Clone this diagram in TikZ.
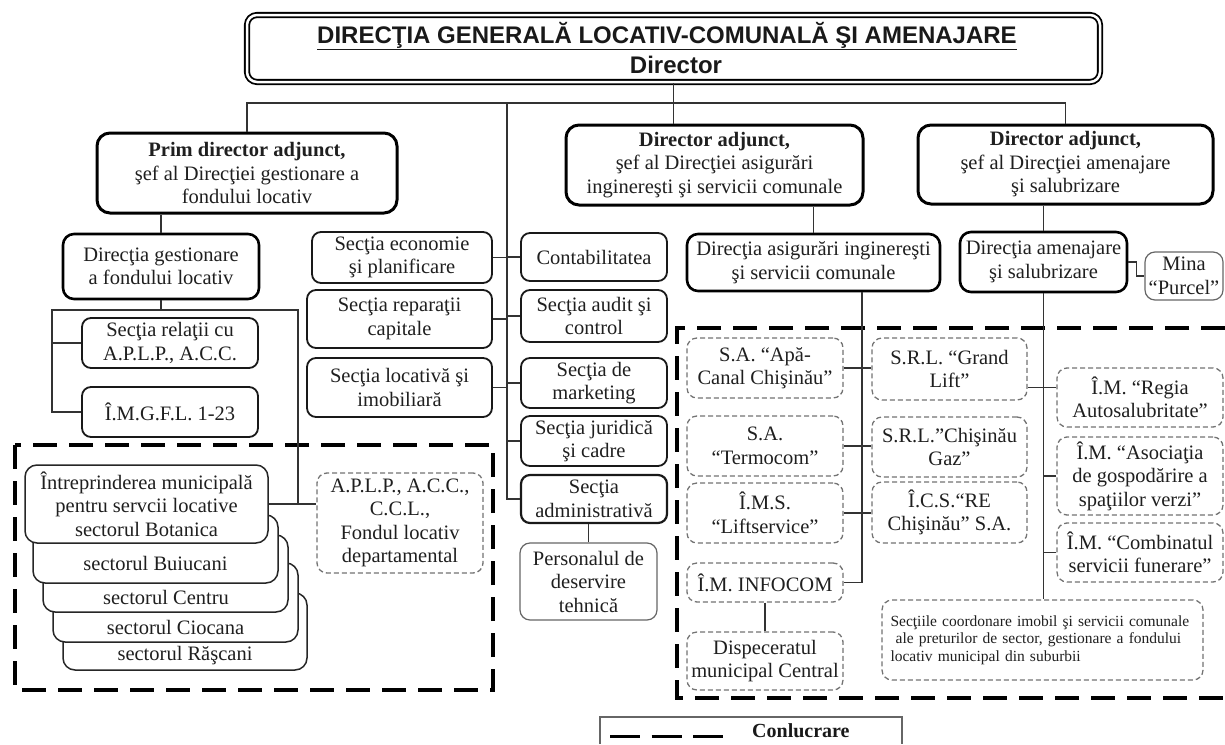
\documentclass[tikz,border=0pt]{standalone}
\usepackage{fontspec}
\setmainfont{Liberation Serif}
\newfontfamily\arialfont{Liberation Sans}
\newcommand\boxfont{\fontsize{20.5pt}{23.5pt}\selectfont}
\newcommand\tinyboxfont{\fontsize{15.5pt}{17.5pt}\selectfont}
\begin{document}
\begin{tikzpicture}[x=1pt,y=-1pt,
  base/.style={align=center, inner sep=0pt, font=\boxfont, text=black!88, fill=white},
  dirbox/.style={base, draw=black, line width=3pt, rounded corners=13pt},
  dbox/.style={base, draw=black, line width=2.6pt, rounded corners=11pt},
  sbox/.style={base, draw=black!90, line width=1.8pt, rounded corners=9pt},
  dashbox/.style={base, draw=black!55, line width=1.3pt, dash pattern=on 5pt off 3pt, rounded corners=10pt},
  thinbox/.style={base, draw=black!60, line width=1.2pt, rounded corners=10pt},
  sectbox/.style={base, draw=black!85, line width=1.5pt, rounded corners=12pt},
  grp/.style={draw=black, line width=3.5pt, dash pattern=on 24pt off 12pt},
  conn/.style={draw=black!80, line width=1.2pt},
  sz/.style 2 args={minimum width=#1pt, minimum height=#2pt}
]
\useasboundingbox (0,0) rectangle (1225,744);

% group frames
\draw[grp] (15,445) rectangle (493,690);
\draw[grp] (1225,328) -- (677,328) -- (677,698) -- (1225,698);

% top box
\node[draw=black, line width=1.8pt, double=white, double distance=2.5pt, rounded corners=10pt, sz={853}{67}, fill=white] (top) at (673.5,48.5) {};
\node[font=\arialfont\bfseries\fontsize{24pt}{28pt}\selectfont, text=black!90, inner sep=0pt] (title) at (667,36) {\underline{DIRECŢIA GENERALĂ LOCATIV-COMUNALĂ ŞI AMENAJARE}};
\node[font=\arialfont\bfseries\fontsize{24pt}{28pt}\selectfont, text=black!90, inner sep=0pt] (dirt) at (676,65) {Director};

% directors
\node[dirbox, sz={300}{80}] (prim) at (247,173) {\textbf{Prim director adjunct,}\\ şef al Direcţiei gestionare a\\ fondului locativ};
\node[dirbox, sz={297}{80}] (mdir) at (714.5,165) {\textbf{Director adjunct,}\\ şef al Direcţiei  asigurări\\ inginereşti şi servicii comunale};
\node[dirbox, sz={295}{79}] (rdir) at (1065.5,164.5) {\textbf{Director adjunct,}\\ şef al Direcţiei  amenajare\\ şi salubrizare};

% left branch
\node[dbox, sz={196}{65}] (dgfl) at (161,266.5) {Direcţia gestionare\\ a fondului  locativ};
\node[sbox, sz={176}{50}] (srel) at (170,343) {Secţia  relaţii cu\\ A.P.L.P., A.C.C.};
\node[sbox, sz={176}{50}] (imgfl) at (170,412) {Î.M.G.F.L. 1-23};

% sections left of spine
\node[sbox, sz={180}{51}] (econ) at (402,257.5) {Secţia economie\\ şi planificare};
\node[sbox, sz={185}{58}] (rep) at (399.5,319) {Secţia reparaţii\\ capitale};
\node[sbox, sz={185}{59}] (loc) at (399.5,387.5) {Secţia locativă şi\\ imobiliară};

% sections right of spine
\node[sbox, sz={146}{48}] (contab) at (594,257) {Contabilitatea};
\node[sbox, sz={146}{52}] (audit) at (594,316) {Secţia audit şi\\ control};
\node[sbox, sz={146}{50}] (mark) at (594,383) {Secţia de\\ marketing};
\node[sbox, sz={146}{50}] (jur) at (594,441) {Secţia juridică\\ şi cadre};
\node[sbox, line width=2.2pt, sz={146}{48}] (admin) at (594,499) {Secţia\\ administrativă};
\node[thinbox, sz={137}{77}] (pers) at (588.5,581.5) {Personalul de\\ deservire\\ tehnică};

% sector stack
\node[sectbox, sz={244}{77}] (ras) at (185,631.5) {};
\node[sectbox, sz={245}{79}] (cio) at (175.5,602.5) {};
\node[sectbox, sz={245}{77}] (cen) at (165.5,573.5) {};
\node[sectbox, sz={245}{68}] (bui) at (155.5,549) {};
\node[sectbox, sz={243}{78}] (bot) at (146.5,504) {Întreprinderea municipală\\ pentru servcii  locative\\ sectorul Botanica};
\node[font=\boxfont, text=black!88, inner sep=0pt] (tbui) at (155.5,563) {sectorul Buiucani};
\node[font=\boxfont, text=black!88, inner sep=0pt] (tcen) at (166,597.5) {sectorul Centru};
\node[font=\boxfont, text=black!88, inner sep=0pt] (tcio) at (175.5,627) {sectorul  Ciocana};
\node[font=\boxfont, text=black!88, inner sep=0pt] (tras) at (185,656) {sectorul Răşcani};
\node[dashbox, sz={166}{100}] (aplp) at (400,523) {A.P.L.P., A.C.C.,\\ C.C.L.,\\ Fondul locativ\\ departamental};

% middle branch
\node[dbox, sz={253}{57}] (dai) at (813.5,262.5) {Direcţia asigurări inginereşti\\ şi servicii  comunale};
\node[dashbox, sz={156}{60}] (apa) at (765,368) {S.A. “Apă-\\ Canal Chişinău”};
\node[dashbox, sz={156}{60}] (termo) at (765,446) {S.A.\\ “Termocom”};
\node[dashbox, sz={156}{60}] (lift) at (765,513) {Î.M.S.\\ “Liftservice”};
\node[dashbox, sz={156}{39}] (infocom) at (765,582.5) {Î.M. INFOCOM};
\node[dashbox, sz={156}{58}] (disp) at (765,661) {Dispeceratul\\ municipal Central};
\node[dashbox, sz={155}{62}] (grand) at (949.5,369) {S.R.L. “Grand\\ Lift”};
\node[dashbox, sz={155}{60}] (gaz) at (949.5,447) {S.R.L.”Chişinău\\ Gaz”};
\node[dashbox, sz={155}{61}] (ics) at (949.5,512.5) {Î.C.S.“RE\\ Chişinău” S.A.};

% right branch
\node[dbox, sz={167}{60}] (das) at (1043.5,262) {Direcţia amenajare\\ şi salubrizare};
\node[thinbox, sz={78}{48}] (mina) at (1184,276) {Mina\\ “Purcel”};
\node[dashbox, sz={166}{59}] (regia) at (1140,397.5) {Î.M. “Regia\\ Autosalubritate”};
\node[dashbox, sz={166}{78}] (asoc) at (1140,476) {Î.M. “Asociaţia\\ de gospodărire a\\ spaţiilor verzi”};
\node[dashbox, sz={166}{59}] (comb) at (1140,552.5) {Î.M. “Combinatul\\ servicii funerare”};
\node[dashbox, sz={321}{80}, font=\tinyboxfont, align=left, text width=304pt] (sect) at (1042.5,640) {Secţiile coordonare  imobil  şi servicii comunale\\ \ ale preturilor de sector, gestionare a  fondului\\ locativ municipal  din suburbii};

% connectors
\coordinate (bus) at (673.5,103);
\coordinate (spine) at (507,103);
\coordinate (lj) at (52,310);
\coordinate (rj) at (298,310);
\coordinate (mv) at (862,0);
\draw[conn] (top.south) -- (top.south |- mdir.north);
\draw[conn] (prim.north) -- (prim.north |- bus) -- (rdir.north |- bus) -- (rdir.north);
\draw[conn] (spine) |- (admin.west);
\foreach \n in {econ,rep,loc} \draw[conn] (\n.east) -- (\n.east -| spine);
\foreach \n in {contab,audit,mark,jur} \draw[conn] (\n.west) -- (\n.west -| spine);
\draw[conn] (pers.north) -- (pers.north |- admin.south);
\draw[conn] (dgfl.north) -- (dgfl.north |- prim.south);
\draw[conn] (dgfl.south) -- (dgfl.south |- lj);
\draw[conn] (srel.west) -| (lj) -- (rj) |- (bot.east);
\draw[conn] (imgfl.west) -| (lj);
\draw[conn] (bot.east) -- (aplp.west |- bot.east);
\draw[conn] (dai.north) -- (dai.north |- mdir.south);
\draw[conn] (dai.south -| mv) |- (infocom.east);
\draw[conn] (apa.east) -- (grand.west |- apa.east);
\draw[conn] (termo.east) -- (gaz.west |- termo.east);
\draw[conn] (lift.east) -- (ics.west |- lift.east);
\draw[conn] (infocom.south) -- (disp.north);
\draw[conn] (das.north) -- (das.north |- rdir.south);
\draw[conn] (das.east) -- ++(8,0) |- (mina.west);
\draw[conn] (das.south) -- (das.south |- sect.north);
\draw[conn] ([yshift=10pt]regia.west) -- ([yshift=10pt]regia.west -| grand.east);
\draw[conn] (asoc.west) -- (asoc.west -| das.south);
\draw[conn] (comb.west) -- (comb.west -| das.south);

% legend
\draw[draw=black!60, line width=1.2pt] (600,744) -- (600,717) -- (902,717) -- (902,744);
\coordinate (la) at (610,736);
\coordinate (lb) at (723,736);
\draw[line width=3pt, dash pattern=on 30pt off 11.5pt] (la) -- (lb);
\node[font=\bfseries\fontsize{20pt}{23pt}\selectfont, text=black!90, inner sep=0pt, anchor=west] (legend) at (752,731) {Conlucrare};
\end{tikzpicture}
\end{document}
